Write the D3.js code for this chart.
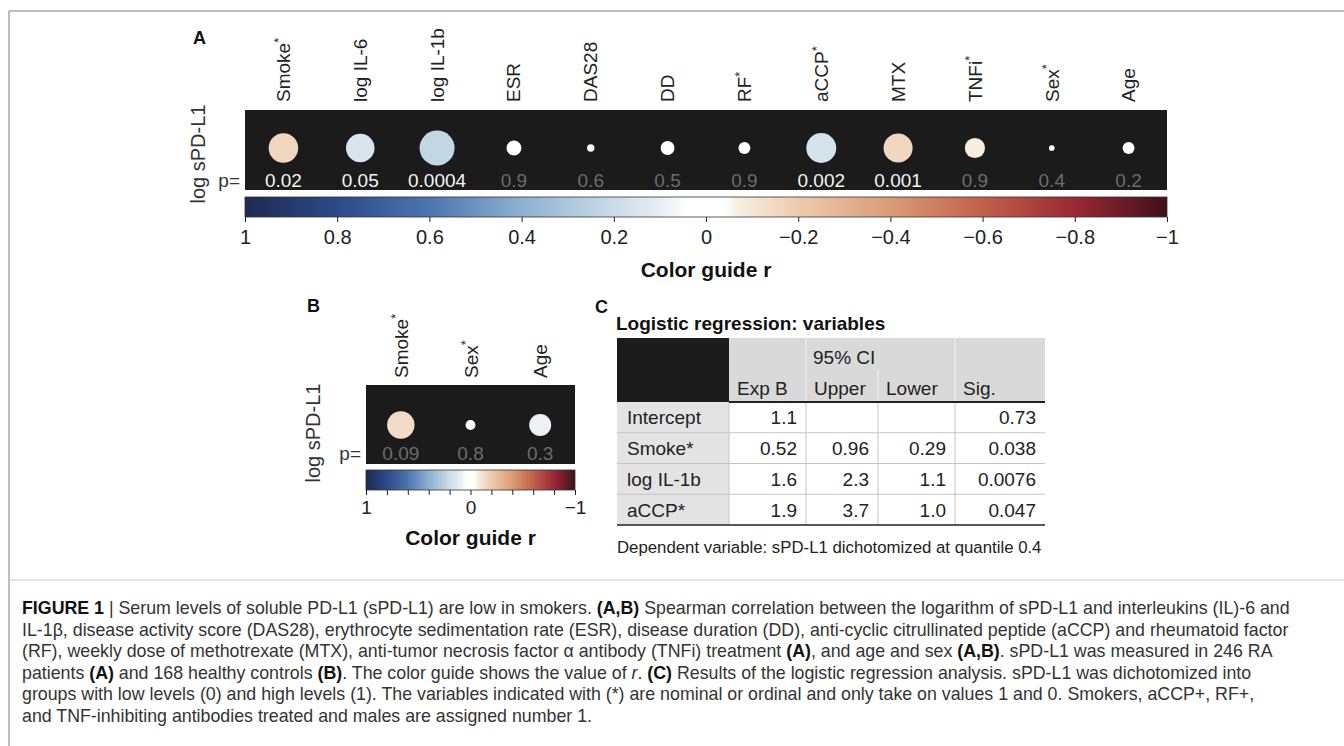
<!DOCTYPE html>
<html><head><meta charset="utf-8">
<script src="https://cdn.jsdelivr.net/npm/d3@7"></script>
<style>
body{margin:0;background:#fff;}
svg{display:block;font-family:"Liberation Sans",Arial,Helvetica,sans-serif;}
</style>
</head><body>
<svg id="c" width="1344" height="746"></svg>
<script>
// ---------------- DATA ----------------
const varsA = ["Smoke*","log IL-6","log IL-1b","ESR","DAS28","DD","RF*","aCCP*","MTX","TNFi*","Sex*","Age"];
const rA    = [-0.16, 0.15, 0.225, 0.041, 0.01, 0.035, 0.026, 0.165, -0.155, -0.075, 0.006, 0.026];
const pA    = ["0.02","0.05","0.0004","0.9","0.6","0.5","0.9","0.002","0.001","0.9","0.4","0.2"];

const varsB = ["Smoke*","Sex*","Age"];
const rB    = [-0.138, -0.018, 0.089];
const pB    = ["0.09","0.8","0.3"];

const ticksA = [1,0.8,0.6,0.4,0.2,0,-0.2,-0.4,-0.6,-0.8,-1];
const ticksB = [1,0.8,0.6,0.4,0.2,0,-0.2,-0.4,-0.6,-0.8,-1];
const ticksBLabeled = [1,0,-1];
const sigLevel = 0.05;

const tableTitle = "Logistic regression: variables";
const tableCols  = ["Exp B","Upper","Lower","Sig."];
const tableGroup = "95% CI";
const tableRows  = ["Intercept","Smoke*","log IL-1b","aCCP*"];
const expB       = ["1.1","0.52","1.6","1.9"];
const ciUpper    = ["","0.96","2.3","3.7"];
const ciLower    = ["","0.29","1.1","1.0"];
const sigVals    = ["0.73","0.038","0.0076","0.047"];
const tableNote  = "Dependent variable: sPD-L1 dichotomized at quantile 0.4";

const captionLines = [
  "**FIGURE 1** | Serum levels of soluble PD-L1 (sPD-L1) are low in smokers. **(A,B)** Spearman correlation between the logarithm of sPD-L1 and interleukins (IL)-6 and",
  "IL-1β, disease activity score (DAS28), erythrocyte sedimentation rate (ESR), disease duration (DD), anti-cyclic citrullinated peptide (aCCP) and rheumatoid factor",
  "(RF), weekly dose of methotrexate (MTX), anti-tumor necrosis factor α antibody (TNFi) treatment **(A)**, and age and sex **(A,B)**. sPD-L1 was measured in 246 RA",
  "patients **(A)** and 168 healthy controls **(B)**. The color guide shows the value of _r_. **(C)** Results of the logistic regression analysis. sPD-L1 was dichotomized into",
  "groups with low levels (0) and high levels (1). The variables indicated with (*) are nominal or ordinal and only take on values 1 and 0. Smokers, aCCP+, RF+,",
  "and TNF-inhibiting antibodies treated and males are assigned number 1."
];

// ---------------- STYLE ----------------
const colorDomain = [1, 0.8, 0.6, 0.4, 0.2, 0.1, 0.04, -0.04, -0.07, -0.1, -0.2, -0.4, -0.6, -0.8, -1];
const colorRange  = ["#1c2a52","#2c4a88","#4b76b0","#8db1d0","#cadce7","#e6eef2","#ffffff",
                     "#ffffff","#f7f0df","#f6e6d6","#eecbae","#da9c75","#c2604b","#992833","#3f1119"];
const color = d3.scaleLinear().domain(colorDomain).range(colorRange).interpolate(d3.interpolateRgb);
const rScale = d3.scaleSqrt().domain([0, 0.225]).range([0, 17.5]);
const BAND = "#1b1b1b";
const TXT = "#222";

const svg = d3.select("#c");
const defs = svg.append("defs");

// frame
svg.append("line").attr("x1",9).attr("x2",1344).attr("y1",11).attr("y2",11)
  .attr("stroke","#a9a9a9").attr("stroke-width",1.5);
svg.append("line").attr("x1",9).attr("x2",9).attr("y1",11).attr("y2",746)
  .attr("stroke","#a9a9a9").attr("stroke-width",1.5);
svg.append("line").attr("x1",9).attr("x2",1344).attr("y1",580).attr("y2",580)
  .attr("stroke","#c8c8c8").attr("stroke-width",1);

function starLabel(sel, fontSize) {
  sel.each(function(d){
    const t = d3.select(this);
    if (d.endsWith("*")) {
      t.append("tspan").text(d.slice(0,-1));
      t.append("tspan").attr("dy", "-0.42em").style("font-size", (fontSize*0.68)+"px").text("*");
    } else t.text(d);
  });
}

function drawPanel(o) {
  const g = svg.append("g");
  const x = d3.scaleBand().domain(o.vars).range([o.x0, o.x1]);
  const cx = d => x(d) + x.bandwidth()/2;

  g.append("text").attr("x", o.letter[0]).attr("y", o.letter[1]).text(o.letter[2])
    .style("font-size","18px").style("font-weight","bold").attr("fill","#111");

  g.append("g").selectAll("text").data(o.vars).join("text")
    .attr("transform", d => `translate(${cx(d)},${o.labelY}) rotate(-90)`)
    .attr("dominant-baseline","central")
    .style("font-size","19px").attr("fill",TXT)
    .call(starLabel, 19);

  g.append("rect").attr("x", o.x0).attr("y", o.bandTop)
    .attr("width", o.x1 - o.x0).attr("height", o.bandBottom - o.bandTop).attr("fill", BAND);

  g.append("g").selectAll("circle").data(o.vars).join("circle")
    .attr("cx", cx).attr("cy", o.cy)
    .attr("r", (d,i) => rScale(Math.abs(o.rs[i])))
    .attr("fill", (d,i) => color(o.rs[i]));

  g.append("g").selectAll("text").data(o.vars).join("text")
    .attr("x", cx).attr("y", o.pY).attr("text-anchor","middle")
    .style("font-size","19px")
    .attr("fill", (d,i) => (+o.ps[i] <= sigLevel ? "#f4f4f4" : "#6c6c6c"))
    .text((d,i) => o.ps[i]);

  g.append("text").attr("x", o.x0 - 5).attr("y", o.pY).attr("text-anchor","end")
    .style("font-size","19px").attr("fill","#333").text("p=");

  g.append("text").attr("transform", `translate(${o.ylab[0]},${o.ylab[1]}) rotate(-90)`)
    .attr("text-anchor","middle").attr("dominant-baseline","central")
    .style("font-size","20px").attr("fill","#333").text("log sPD-L1");

  const cb = d3.scaleLinear().domain([1,-1]).range([o.x0, o.x1]);
  const gid = "grad" + o.letter[2];
  const grad = defs.append("linearGradient").attr("id", gid)
    .attr("gradientUnits","userSpaceOnUse")
    .attr("x1", cb(1)).attr("x2", cb(-1)).attr("y1",0).attr("y2",0);
  colorDomain.forEach((v,i) => grad.append("stop")
    .attr("offset", (cb(v)-cb(1))/(cb(-1)-cb(1))).attr("stop-color", colorRange[i]));
  g.append("rect").attr("x", o.x0).attr("y", o.cbTop)
    .attr("width", o.x1 - o.x0).attr("height", o.cbBottom - o.cbTop)
    .attr("fill", `url(#${gid})`).attr("stroke","#333").attr("stroke-width",0.8);

  const axis = d3.axisBottom(cb).tickValues(o.ticks).tickSize(5).tickSizeOuter(0)
    .tickPadding(o.tickPad)
    .tickFormat(d => o.labeled.includes(d) ? d3.format("~g")(d) : "");
  const ag = g.append("g").attr("transform", `translate(0,${o.cbBottom})`).call(axis);
  ag.select(".domain").remove();
  ag.selectAll("line").attr("stroke","#222").attr("stroke-width",1);
  ag.selectAll("text").style("font-size", o.tickFont + "px")
    .style("font-family",'"Liberation Sans",Arial,sans-serif').attr("fill",TXT);

  g.append("text").attr("x", (o.x0+o.x1)/2).attr("y", o.titleY).attr("text-anchor","middle")
    .style("font-size","21px").style("font-weight","bold").attr("fill","#111").text("Color guide r");
}

drawPanel({
  vars: varsA, rs: rA, ps: pA, x0: 245, x1: 1167, labelY: 102,
  bandTop: 110, bandBottom: 190, cy: 148, pY: 187, ylab: [198, 154],
  cbTop: 197, cbBottom: 217, ticks: ticksA, labeled: ticksA, tickPad: 8, tickFont: 20,
  titleY: 277, letter: [193, 44, "A"]
});

drawPanel({
  vars: varsB, rs: rB, ps: pB, x0: 366, x1: 575, labelY: 378,
  bandTop: 385, bandBottom: 464, cy: 425, pY: 460, ylab: [313, 433],
  cbTop: 470, cbBottom: 490, ticks: ticksB, labeled: ticksBLabeled, tickPad: 6, tickFont: 19,
  titleY: 545, letter: [307, 312, "B"]
});

// ---------------- TABLE (C) ----------------
(function(){
  const g = svg.append("g");
  const colEdges = [617, 729, 806, 878, 955, 1045];
  const hTop = 338, hMid = 370, hBot = 402, tBot = 525;
  const y = d3.scaleBand().domain(tableRows).range([hBot, tBot]);
  const right = colEdges[colEdges.length-1];

  g.append("text").attr("x",595).attr("y",313).text("C")
    .style("font-size","18px").style("font-weight","bold").attr("fill","#111");
  g.append("text").attr("x",616).attr("y",330).text(tableTitle)
    .style("font-size","19px").style("font-weight","bold").attr("fill","#111");

  g.append("rect").attr("x",colEdges[0]).attr("y",hTop).attr("width",colEdges[1]-colEdges[0])
    .attr("height",hBot-hTop).attr("fill",BAND);
  g.append("rect").attr("x",colEdges[1]).attr("y",hTop).attr("width",right-colEdges[1])
    .attr("height",hBot-hTop).attr("fill","#d9d9d9");
  g.append("rect").attr("x",colEdges[0]).attr("y",hBot).attr("width",colEdges[1]-colEdges[0])
    .attr("height",tBot-hBot).attr("fill","#e3e3e3");

  [[colEdges[2], hTop],[colEdges[3], hMid],[colEdges[4], hTop]].forEach(([xx,y0]) =>
    g.append("line").attr("x1",xx).attr("x2",xx).attr("y1",y0).attr("y2",hBot)
      .attr("stroke","#f2f2f2").attr("stroke-width",1));
  colEdges.slice(1,5).forEach(xx =>
    g.append("line").attr("x1",xx).attr("x2",xx).attr("y1",hBot).attr("y2",tBot)
      .attr("stroke","#c4c4c4").attr("stroke-width",1));
  tableRows.slice(1).forEach(r =>
    g.append("line").attr("x1",colEdges[0]).attr("x2",right).attr("y1",y(r)).attr("y2",y(r))
      .attr("stroke","#c4c4c4").attr("stroke-width",1));
  g.append("line").attr("x1",colEdges[1]).attr("x2",right).attr("y1",hBot).attr("y2",hBot)
    .attr("stroke","#222").attr("stroke-width",2);
  g.append("line").attr("x1",colEdges[0]).attr("x2",right).attr("y1",tBot).attr("y2",tBot)
    .attr("stroke","#222").attr("stroke-width",1.5);

  g.append("text").attr("x",colEdges[2]+7).attr("y",364).text(tableGroup)
    .style("font-size","19px").attr("fill",TXT);
  tableCols.forEach((c,i) => g.append("text").attr("x",colEdges[i+1]+8).attr("y",395).text(c)
    .style("font-size","19px").attr("fill",TXT));

  const cols = [expB, ciUpper, ciLower, sigVals];
  tableRows.forEach((r,ri) => {
    const by = y(r) + y.bandwidth()/2 + 7;
    g.append("text").attr("x",colEdges[0]+10).attr("y",by).text(r)
      .style("font-size","19px").attr("fill",TXT);
    cols.forEach((arr,ci) => g.append("text").attr("x",colEdges[ci+2]-9).attr("y",by)
      .attr("text-anchor","end").text(arr[ri]).style("font-size","19px").attr("fill",TXT));
  });

  g.append("text").attr("x",617).attr("y",553).text(tableNote)
    .style("font-size","16.8px").attr("fill","#222");
})();

// ---------------- CAPTION ----------------
const cap = svg.append("g");
captionLines.forEach((line,i) => {
  const t = cap.append("text").attr("x",22).attr("y",614 + i*21.6)
    .style("font-size","17.8px").attr("fill","#333");
  line.split(/(\*\*[^*]+\*\*|_[^_]+_)/).filter(s => s.length).forEach(seg => {
    if (seg.startsWith("**")) t.append("tspan").style("font-weight","bold").attr("fill","#111").text(seg.slice(2,-2));
    else if (seg.startsWith("_") && seg.endsWith("_") && seg.length>2) t.append("tspan").style("font-style","italic").text(seg.slice(1,-1));
    else t.append("tspan").text(seg);
  });
});
</script>
</body></html>
